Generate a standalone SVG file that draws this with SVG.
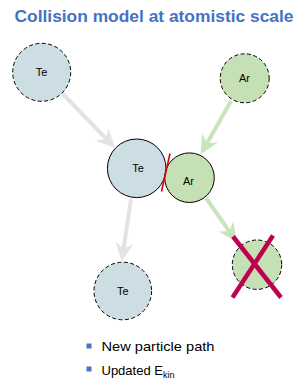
<svg xmlns="http://www.w3.org/2000/svg" width="308" height="389" viewBox="0 0 308 389">
<defs>
<style>
.title{font-family:"Liberation Sans",Arial,sans-serif;font-weight:bold;font-size:17px;fill:#4472C4}
.lbl{font-family:"Liberation Sans",Arial,sans-serif;font-size:11px;fill:#000}
.te{fill:#CCDDE4}
.ar{fill:#C5E0B4}
.dash{stroke:#000;stroke-width:1;stroke-dasharray:4 2.5}
.solid{stroke:#000;stroke-width:1}
.gray{stroke:#E3E3E3;stroke-width:4;fill:none}
.green{stroke:#C9E4BA;stroke-width:4;fill:none}
.bul{font-family:"Liberation Sans",Arial,sans-serif;font-size:13px;fill:#000}
</style>
<marker id="hg" markerUnits="userSpaceOnUse" viewBox="-10 -10 22 20" refX="0" refY="0" markerWidth="22" markerHeight="20" orient="auto">
<path d="M11,0 L-8,-9 L-2,0 L-8,9 Z" fill="#E3E3E3"/>
</marker>
<marker id="hn" markerUnits="userSpaceOnUse" viewBox="-10 -10 22 20" refX="0" refY="0" markerWidth="22" markerHeight="20" orient="auto">
<path d="M11,0 L-8,-9 L-2,0 L-8,9 Z" fill="#C9E4BA"/>
</marker>
</defs>
<text class="title" x="154" y="22" text-anchor="middle" textLength="279" lengthAdjust="spacingAndGlyphs">Collision model at atomistic scale</text>
<g id="connectors">
<line class="gray" x1="62" y1="93" x2="107.5" y2="140.2" marker-end="url(#hg)"/>
<line class="green" x1="231" y1="101" x2="206" y2="145" marker-end="url(#hn)"/>
<line class="green" x1="206" y1="198" x2="230.5" y2="233" marker-end="url(#hn)"/>
<line class="gray" x1="131" y1="199" x2="123.3" y2="250.8" marker-end="url(#hg)"/>
</g>
<g id="te1">
<circle class="te dash" cx="41.7" cy="72.3" r="29"/>
<text class="lbl" x="41.5" y="76" text-anchor="middle">Te</text>
</g>
<g id="ar1">
<circle class="ar dash" cx="244.7" cy="78.3" r="24.5"/>
<text class="lbl" x="244.5" y="82" text-anchor="middle">Ar</text>
</g>
<g id="te2">
<circle class="te solid" cx="136.7" cy="168.3" r="29.3"/>
<text class="lbl" x="138" y="172" text-anchor="middle">Te</text>
</g>
<g id="ar2">
<circle class="ar solid" cx="189.5" cy="177.7" r="24.8"/>
<text class="lbl" x="188.5" y="185" text-anchor="middle">Ar</text>
</g>
<g id="contact">
<line x1="170" y1="153.5" x2="161.5" y2="191.5" stroke="#E00000" stroke-width="1.6"/>
</g>
<g id="ar3">
<circle class="ar dash" cx="257" cy="264.7" r="24.7"/>
<line x1="233" y1="236.5" x2="281" y2="297.5" stroke="#C0004F" stroke-width="4.5"/>
<line x1="273" y1="235.5" x2="232.5" y2="297.5" stroke="#C0004F" stroke-width="4.5"/>
</g>
<g id="te3">
<circle class="te dash" cx="122.8" cy="291" r="28.8"/>
<text class="lbl" x="122.8" y="295" text-anchor="middle">Te</text>
</g>
<g id="legend">
<rect x="86.5" y="343.5" width="5" height="5" fill="#4472C4"/>
<text class="bul" x="101.5" y="351" textLength="113" lengthAdjust="spacingAndGlyphs">New particle path</text>
<rect x="86.5" y="366.5" width="5" height="5" fill="#4472C4"/>
<text class="bul" x="101.5" y="375">Updated E<tspan font-size="9" dy="3">kin</tspan></text>
</g>
</svg>
